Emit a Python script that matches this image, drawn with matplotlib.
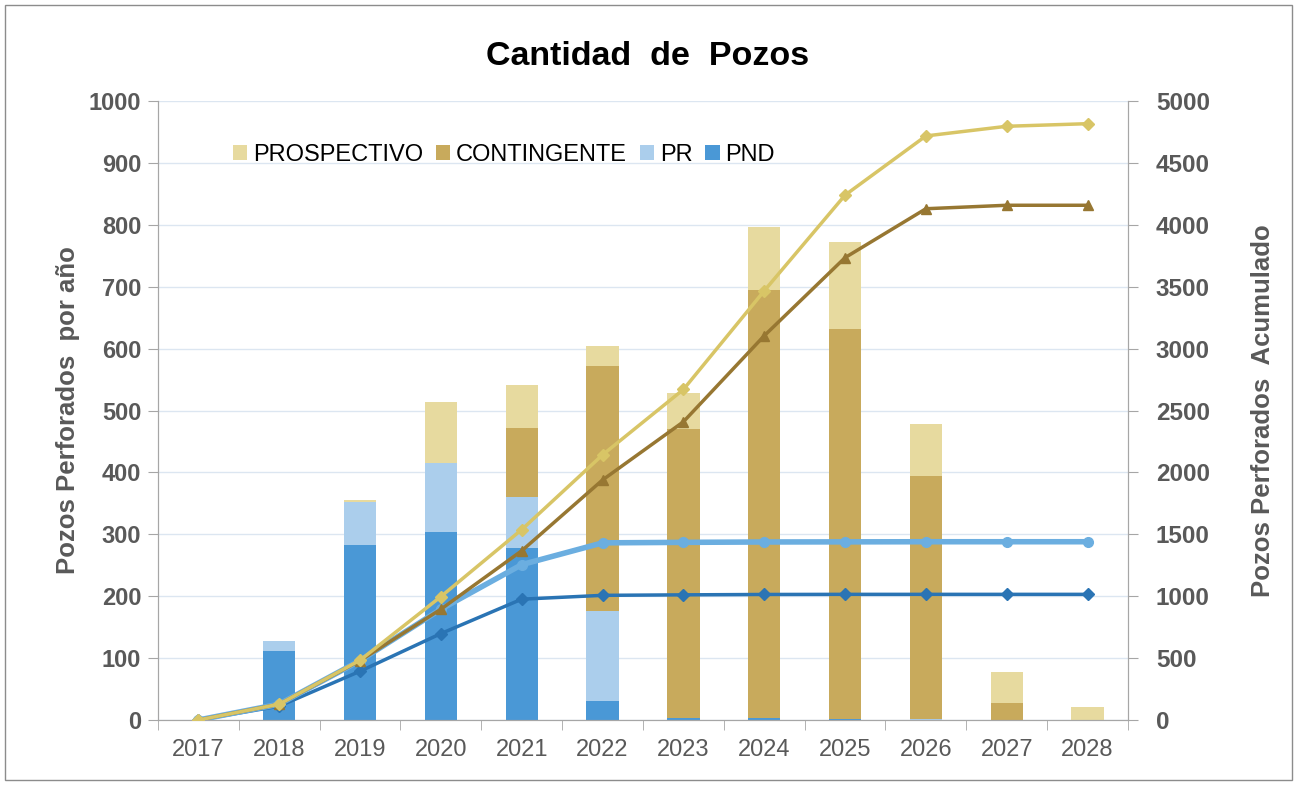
import numpy as np
import matplotlib.pyplot as plt

plt.rcParams['font.family'] = ['Liberation Sans', 'DejaVu Sans']

# Pozos perforados por año, por categoría
years = ['2017', '2018', '2019', '2020', '2021', '2022',
         '2023', '2024', '2025', '2026', '2027', '2028']
pnd = [0, 112, 282, 304, 278, 31, 4, 3, 1, 0, 0, 0]
pr = [0, 16, 70, 111, 82, 145, 0, 0, 0, 1, 0, 0]
contingente = [0, 0, 0, 0, 112, 396, 466, 692, 630, 394, 28, 0]
prospectivo = [0, 0, 3, 99, 69, 32, 58, 102, 142, 83, 50, 21]

c_prosp = '#E7DA9F'
c_cont = '#C8AA5C'
c_pr = '#ABCEEC'
c_pnd = '#4A98D6'
gray = '#595959'

x = np.arange(len(years))
pnd_a = np.array(pnd)
pr_a = np.array(pr)
cont_a = np.array(contingente)
prosp_a = np.array(prospectivo)

fig = plt.figure(figsize=(12.97, 7.85), dpi=100)
ax = fig.add_axes([0.1218, 0.0828, 0.7479, 0.7885])
ax2 = ax.twinx()

w = 0.4
ax.bar(x, pnd_a, w, color=c_pnd, label='PND', zorder=2)
ax.bar(x, pr_a, w, bottom=pnd_a, color=c_pr, label='PR', zorder=2)
ax.bar(x, cont_a, w, bottom=pnd_a + pr_a, color=c_cont, label='CONTINGENTE', zorder=2)
ax.bar(x, prosp_a, w, bottom=pnd_a + pr_a + cont_a, color=c_prosp, label='PROSPECTIVO', zorder=2)

# acumulados
cum_pnd = np.cumsum(pnd_a)
cum_pr = np.cumsum(pnd_a + pr_a)
cum_cont = np.cumsum(pnd_a + pr_a + cont_a)
cum_tot = np.cumsum(pnd_a + pr_a + cont_a + prosp_a)

ax2.plot(x, cum_pnd, color='#2A74B4', lw=2.5, marker='D', ms=6, zorder=3)
ax2.plot(x, cum_pr, color='#6BAEE0', lw=4, marker='o', ms=7, zorder=3)
ax2.plot(x, cum_cont, color='#977732', lw=2.5, marker='^', ms=7, zorder=3)
ax2.plot(x, cum_tot, color='#D8C566', lw=2.5, marker='D', ms=6, zorder=3)

ax.set_xlim(-0.5, 11.5)
ax.set_ylim(0, 1000)
ax2.set_ylim(0, 5000)
ax.set_yticks(np.arange(0, 1001, 100))
ax2.set_yticks(np.arange(0, 5001, 500))
ax.set_xticks(x)
ax.set_xticklabels(years)
ax.set_xticks(np.arange(-0.5, 12, 1), minor=True)
ax.tick_params(axis='x', which='major', length=0, pad=14, labelsize=17, labelcolor=gray)
ax.tick_params(axis='x', which='minor', length=7, color='#A6A6A6')
ax.tick_params(axis='y', length=7, color='#A6A6A6', labelsize=17, labelcolor=gray, pad=5)
ax2.tick_params(axis='y', length=7, color='#A6A6A6', labelsize=17.5, labelcolor=gray, pad=13)
for lab in ax.get_yticklabels() + ax2.get_yticklabels():
    lab.set_fontweight('bold')

ax.grid(axis='y', color='#DCE6F1', lw=1, zorder=0)
ax.set_axisbelow(True)
for a in (ax, ax2):
    a.spines['top'].set_visible(False)
    a.spines['left'].set_color('#A6A6A6')
    a.spines['right'].set_color('#A6A6A6')
    a.spines['bottom'].set_color('#A6A6A6')

ax.set_ylabel('Pozos Perforados  por año', fontsize=18.5, fontweight='bold', color=gray, labelpad=6)
ax2.set_ylabel('Pozos Perforados  Acumulado', fontsize=18.5, fontweight='bold', color=gray, labelpad=30)
fig.text(0.499, 0.928, 'Cantidad  de  Pozos', ha='center', va='center', fontsize=24.5, fontweight='bold')

handles, labels = ax.get_legend_handles_labels()
order = [3, 2, 1, 0]
ax.legend([handles[i] for i in order], [labels[i] for i in order],
          loc='upper left', bbox_to_anchor=(0.055, 0.965), ncol=4, frameon=False,
          fontsize=17, handlelength=0.6, handleheight=0.6, handletextpad=0.25, columnspacing=0.55)

# borde exterior
fig.patches.append(plt.Rectangle((0.004, 0.006), 0.992, 0.988, transform=fig.transFigure,
                                 fill=False, edgecolor='#8C8C8C', lw=1))

fig.savefig('out.png', dpi=100)
